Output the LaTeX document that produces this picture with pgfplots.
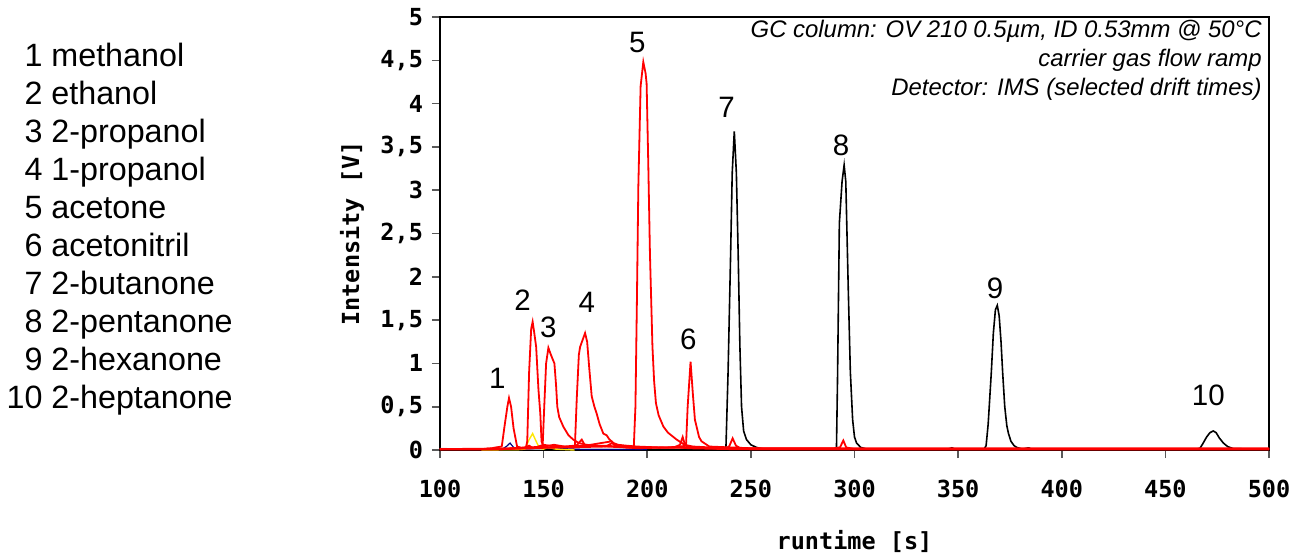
\documentclass[border=0pt]{standalone}
\usepackage{fontspec}
\setmainfont{Liberation Sans}
\setmonofont{DejaVu Sans Mono}
\usepackage{pgfplots}
\pgfplotsset{compat=1.18}
\begin{document}
\begin{tikzpicture}
\path[use as bounding box] (-220bp,-52.5bp) rectangle (428.5bp,225bp);
\node[anchor=north west, inner sep=0pt, font=\fontsize{16.2}{19.1}\selectfont] at (-216.9bp,205.3bp) {%
\begin{tabular}{@{}r@{\ }l@{}}
1 & methanol\\
2 & ethanol\\
3 & 2-propanol\\
4 & 1-propanol\\
5 & acetone\\
6 & acetonitril\\
7 & 2-butanone\\
8 & 2-pentanone\\
9 & 2-hexanone\\
10 & 2-heptanone
\end{tabular}};
\begin{axis}[
  at={(0,0)}, anchor=south west,
  scale only axis, width=414.5bp, height=216.5bp,
  xmin=100, xmax=500, ymin=0, ymax=5,
  xtick={100,150,...,500}, ytick={0,0.5,...,5},
  tick align=outside, major tick length=4bp,
  xtick pos=bottom, ytick pos=left,
  axis line style={line width=1bp},
  tick style={line width=0.8bp, gray!70!black},
  /pgf/number format/use comma,
  /pgf/number format/assume math mode=true,
  ticklabel style={font=\ttfamily\bfseries\fontsize{11.8}{13}\selectfont},
  yticklabel shift=1bp,
  xticklabel shift=7.5bp,
  xlabel={runtime [s]}, ylabel={Intensity [V]},
  label style={font=\ttfamily\bfseries\fontsize{11.8}{13}\selectfont},
  xlabel style={at={(axis description cs:0.5,-0.2102)}, anchor=center},
  ylabel style={at={(axis description cs:-0.1062,0.5)}, anchor=center},
  clip=false,
]
% black: 2-butanone ... 2-heptanone
\addplot[black, line width=0.8bp] coordinates {
(100,0.005)(230,0.005)(237.5,0.01)(238,0.05)(239,0.9)(240.2,2.23)(241,3.2)(242,3.68)(243,3.2)(243.9,2.23)(244.7,1.2)(245.5,0.5)(246.5,0.22)(247.9,0.12)(250,0.06)(252.7,0.03)(256,0.01)
(290,0.01)(291.3,0.02)(291.8,0.8)(292.7,2.62)(294,3.1)(295,3.29)(295.8,3.1)(297,1.85)(298,0.9)(299.1,0.35)(300,0.15)(301,0.08)(303,0.03)(306,0.01)
(345,0.01)(347,0.025)(349,0.005)(362.5,0.01)(363.5,0.05)(364.5,0.3)(366,0.89)(367,1.35)(368,1.62)(368.9,1.67)(369.8,1.55)(370.7,1.25)(371.5,0.89)(372.5,0.5)(373.5,0.28)(374.3,0.19)(375.5,0.1)(377,0.05)(378.3,0.03)(381,0.01)(384,0.025)(386,0.005)
(465,0.01)(466.7,0.02)(468,0.07)(469.9,0.15)(471.5,0.2)(473.1,0.22)(474.5,0.2)(476,0.14)(478,0.08)(480,0.04)(482.8,0.015)(500,0.01)};
% light grey and navy baselines
\addplot[gray!50, line width=0.8bp] coordinates {(100,0.015)(115,0.01)(125,0.015)(135,0.01)(150,0.01)};
\addplot[blue!50!black, line width=0.6bp] coordinates {(100,0.01)(120,0.008)(130,0.01)(132,0.04)(133.8,0.08)(135.5,0.03)(138,0.01)(150,0.02)(155,0.03)(160,0.015)(170,0.005)(200,0.005)};
\addplot[yellow!90!orange, line width=0.7bp] coordinates {(120,0.0)(138,0.005)(141,0.01)(143,0.12)(144.7,0.19)(146,0.12)(148,0.02)(150,0.01)(152,0.03)(156,0.01)(165,0.0)};
% red channels
\addplot[red, line width=0.9bp] coordinates {
(100,0.01)(120,0.01)(125,0.02)(127,0.03)(129.8,0.04)(131,0.25)(132.5,0.5)(133.3,0.6)(134.3,0.5)(135.5,0.25)(137.2,0.04)(140,0.02)(160,0.03)(180,0.04)(190,0.03)(193.5,0.03)(194.3,0.5)(195,1.7)(195.7,3.04)(196.8,4.2)(198.1,4.48)(199.2,4.35)(199.7,4.23)(200.5,3.3)(201.3,2.27)(202.5,1.2)(203.3,0.8)(204.2,0.54)(205.5,0.4)(207.8,0.27)(210,0.2)(214.2,0.12)(218,0.06)(222,0.04)(230,0.03)(238,0.02)(239.5,0.04)(241.2,0.135)(242.8,0.05)(245,0.02)(260,0.01)(500,0.01)};
\addplot[red, line width=0.9bp] coordinates {
(100,0.01)(125,0.01)(135,0.02)(141.5,0.03)(142.1,0.1)(143,0.9)(144,1.4)(144.7,1.48)(145.5,1.35)(146.4,1.19)(147.5,0.7)(148.4,0.42)(149,0.1)(150,0.03)(155,0.03)(165,0.05)(180,0.05)(195,0.02)(210,0.03)(216,0.04)(218.7,0.05)(219.5,0.5)(220.9,1.02)(222,0.65)(223,0.35)(223.8,0.27)(225,0.15)(226.2,0.1)(230,0.04)(250,0.02)(290,0.02)(293,0.03)(294.6,0.11)(296,0.03)(300,0.01)(500,0.01)};
\addplot[red, line width=0.9bp] coordinates {
(100,0.01)(130,0.01)(145,0.02)(149.5,0.03)(150.3,0.5)(151.2,1.0)(152.3,1.18)(153.5,1.1)(155.2,1.0)(156,0.75)(156.6,0.5)(157.5,0.38)(159.5,0.27)(162,0.17)(164.3,0.12)(167,0.08)(170.8,0.06)(175,0.05)(180,0.04)(183,0.08)(185,0.04)(190,0.03)(200,0.03)(215,0.03)(220,0.02)(240,0.01)(500,0.01)};
\addplot[red, line width=0.9bp] coordinates {
(100,0.01)(130,0.01)(150,0.04)(155,0.06)(160,0.04)(164.5,0.03)(165.1,0.05)(166,0.6)(167,1.1)(167.6,1.19)(168.5,1.25)(170,1.35)(171,1.25)(172,0.95)(173.2,0.62)(174.5,0.5)(175.6,0.42)(177,0.3)(178.8,0.19)(180.4,0.17)(181.5,0.13)(183.6,0.08)(186,0.06)(190,0.05)(195,0.04)(205,0.03)(213,0.03)(215.8,0.06)(217.1,0.15)(218.3,0.05)(222,0.03)(230,0.02)(250,0.01)(500,0.01)};
\addplot[red, line width=0.9bp] coordinates {
(100,0.01)(140,0.02)(143,0.05)(145,0.02)(150,0.06)(155,0.04)(165,0.03)(168.4,0.12)(170,0.05)(182.8,0.1)(185,0.05)(195,0.03)(240,0.02)(500,0.02)};
% peak labels
\begin{scope}[every node/.style={font=\fontsize{14.8}{16}\selectfont, inner sep=0pt}]
\node at (axis cs:127.6,0.83) {1};
\node at (axis cs:139.9,1.73) {2};
\node at (axis cs:152.3,1.42) {3};
\node at (axis cs:170.8,1.70) {4};
\node at (axis cs:195.2,4.70) {5};
\node at (axis cs:219.8,1.28) {6};
\node at (axis cs:238.3,3.96) {7};
\node at (axis cs:293.5,3.52) {8};
\node at (axis cs:367.8,1.87) {9};
\node at (axis cs:470.7,0.635) {10};
\end{scope}
\node[anchor=north east, align=right, inner sep=0pt, font=\itshape\fontsize{12}{14.6}\selectfont] at ([xshift=-3.5bp,yshift=-1.5bp]rel axis cs:1,1) {GC column: OV 210 0.5µm, ID 0.53mm @ 50°C\\carrier gas flow ramp\\Detector: IMS (selected drift times)};
\end{axis}
\end{tikzpicture}
\end{document}
